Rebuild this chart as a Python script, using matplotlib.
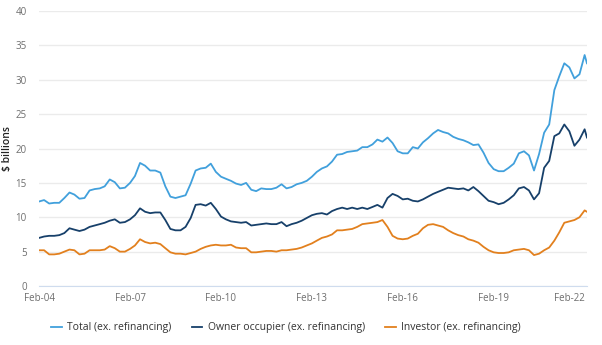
import matplotlib
matplotlib.use("Agg")
import matplotlib.pyplot as plt
import pandas as pd

plt.rcParams['font.family'] = ['Open Sans', 'DejaVu Sans']

# bi-monthly readings, Feb 2004 .. Feb 2022, plus the last month (Mar 2022)
dates = list(pd.date_range('2004-02-01', periods=109, freq='2MS')) + [pd.Timestamp('2022-03-01')]

total = [12.3, 12.5, 12.0, 12.1, 12.1, 12.8, 13.6, 13.3, 12.7, 12.8,
         13.9, 14.1, 14.2, 14.5, 15.5, 15.1, 14.2, 14.3, 15.0, 16.0,
         17.9, 17.5, 16.8, 16.8, 16.5, 14.5, 13.0, 12.8, 13.0, 13.2,
         14.9, 16.8, 17.1, 17.2, 17.8, 16.6, 15.9, 15.6, 15.3, 14.9,
         14.7, 15.0, 14.0, 13.8, 14.2, 14.1, 14.1, 14.3, 14.8, 14.2,
         14.4, 14.8, 15.0, 15.3, 15.9, 16.6, 17.1, 17.4, 18.1, 19.1,
         19.2, 19.5, 19.6, 19.7, 20.2, 20.2, 20.6, 21.3, 21.0, 21.6,
         20.8, 19.6, 19.3, 19.3, 20.2, 20.0, 20.9, 21.5, 22.2, 22.7,
         22.4, 22.2, 21.7, 21.4, 21.2, 20.9, 20.5, 20.6, 19.4, 17.9,
         17.0, 16.7, 16.7, 17.2, 17.8, 19.3, 19.6, 19.0, 16.8, 19.2,
         22.3, 23.5, 28.5, 30.5, 32.4, 31.8, 30.2, 30.8, 33.6, 32.4]

owner = [7.0, 7.2, 7.3, 7.3, 7.4, 7.7, 8.4, 8.2, 8.0, 8.2,
         8.6, 8.8, 9.0, 9.2, 9.5, 9.7, 9.2, 9.3, 9.7, 10.3,
         11.3, 10.8, 10.6, 10.7, 10.7, 9.6, 8.3, 8.1, 8.1, 8.6,
         9.9, 11.8, 11.9, 11.7, 12.1, 11.2, 10.1, 9.7, 9.4, 9.3,
         9.2, 9.3, 8.8, 8.9, 9.0, 9.1, 9.0, 9.0, 9.3, 8.7,
         9.0, 9.2, 9.5, 9.9, 10.3, 10.5, 10.6, 10.4, 10.9, 11.2,
         11.4, 11.2, 11.4, 11.2, 11.4, 11.2, 11.5, 11.8, 11.4, 12.8,
         13.4, 13.1, 12.6, 12.7, 12.4, 12.3, 12.6, 13.0, 13.4, 13.7,
         14.0, 14.3, 14.2, 14.1, 14.2, 13.9, 14.4, 13.8, 13.1, 12.4,
         12.2, 11.9, 12.1, 12.6, 13.2, 14.2, 14.4, 13.9, 12.6, 13.5,
         17.2, 18.2, 21.8, 22.2, 23.5, 22.5, 20.4, 21.3, 22.8, 21.6]

investor = [5.2, 5.2, 4.6, 4.6, 4.7, 5.0, 5.3, 5.2, 4.6, 4.7,
            5.2, 5.2, 5.2, 5.3, 5.8, 5.5, 5.0, 5.0, 5.4, 5.9,
            6.8, 6.4, 6.2, 6.3, 6.1, 5.5, 4.9, 4.7, 4.7, 4.6,
            4.8, 5.0, 5.4, 5.7, 5.9, 6.0, 5.9, 5.9, 6.0, 5.6,
            5.5, 5.5, 4.9, 4.9, 5.0, 5.1, 5.1, 5.0, 5.2, 5.2,
            5.3, 5.4, 5.6, 5.9, 6.2, 6.6, 7.0, 7.2, 7.5, 8.1,
            8.1, 8.2, 8.3, 8.6, 9.0, 9.1, 9.2, 9.3, 9.6, 8.6,
            7.3, 6.9, 6.8, 6.9, 7.3, 7.6, 8.4, 8.9, 9.0, 8.8,
            8.6, 8.1, 7.7, 7.4, 7.2, 6.8, 6.6, 6.3, 5.7, 5.2,
            4.9, 4.8, 4.8, 4.9, 5.2, 5.3, 5.4, 5.2, 4.5, 4.7,
            5.2, 5.6, 6.6, 7.8, 9.2, 9.4, 9.6, 10.0, 11.0, 10.8]

labels = ['Total (ex. refinancing)', 'Owner occupier (ex. refinancing)',
          'Investor (ex. refinancing)']
colors = ['#41a0dc', '#17406a', '#e2801e']
tick_years = [2004, 2007, 2010, 2013, 2016, 2019, 2022]

fig = plt.figure(figsize=(6.02, 3.45), dpi=100)
ax = fig.add_axes([0.065, 0.171, 0.91, 0.797])

for s, lab, c in zip([total, owner, investor], labels, colors):
    ax.plot(dates, s, color=c, lw=1.3, label=lab)

ax.set_ylim(0, 40)
ax.set_yticks(range(0, 41, 5))
ax.set_xlim(dates[0], dates[-1])
ticks = [pd.Timestamp(f'{y}-02-01') for y in tick_years]
ax.set_xticks(ticks)
ax.set_xticklabels([f'Feb-{y % 100:02d}' for y in tick_years])
ax.get_xticklabels()[-1].set_horizontalalignment('right')

ax.grid(axis='y', color='#ebebeb', lw=1)
ax.set_axisbelow(True)
for side in ['top', 'right', 'left']:
    ax.spines[side].set_visible(False)
ax.spines['bottom'].set_color('#cfdcee')
ax.tick_params(axis='both', length=0, labelsize=7, labelcolor='#6e6e6e')
ax.tick_params(axis='y', pad=9)
ax.tick_params(axis='x', pad=5)

ax.set_ylabel('$ billions', fontsize=7.5, color='#222222', fontweight='semibold')
ax.yaxis.label.set_va('center')
ax.yaxis.set_label_coords(-0.058, 0.5)

fig.legend(loc='center', bbox_to_anchor=(0.475, 0.05), ncol=3, frameon=False,
           fontsize=7.5, handlelength=1.0, handletextpad=0.5, columnspacing=2.0,
           labelcolor='#333333')

fig.savefig('out.png', dpi=100)
